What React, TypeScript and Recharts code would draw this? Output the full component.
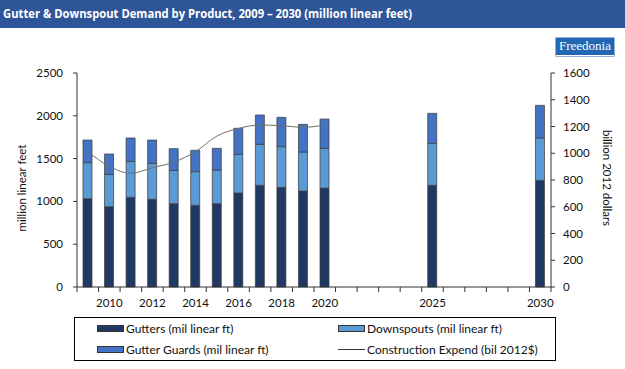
import React from 'react';
import { ComposedChart, Bar, Line, XAxis, YAxis } from 'recharts';

const categories = ['2009','2010','2011','2012','2013','2014','2015','2016','2017','2018','2019','2020','2021','2022','2023','2024','2025','2026','2027','2028','2029','2030'];
const labeledYears = ['2010','2012','2014','2016','2018','2020','2025','2030'];

const barYears = ['2009','2010','2011','2012','2013','2014','2015','2016','2017','2018','2019','2020','2025','2030'];
const gutters = [1032, 938, 1048, 1024, 973, 954, 973, 1098, 1188, 1165, 1121, 1156, 1188, 1246];
const downspouts = [420, 378, 420, 421, 390, 393, 394, 452, 479, 474, 456, 464, 490, 495];
const guards = [265, 238, 273, 272, 253, 250, 253, 304, 342, 343, 323, 342, 351, 381];

const lineYears = ['2009','2010','2011','2012','2013','2014','2015','2016','2017','2018','2019','2020'];
const construction = [1012, 902, 850, 892, 934, 1012, 1129, 1186, 1211, 1206, 1194, 1211];

const leftTicks = [0, 500, 1000, 1500, 2000, 2500];
const rightTicks = [0, 200, 400, 600, 800, 1000, 1200, 1400, 1600];

const data = categories.map((c) => {
  const bi = barYears.indexOf(c);
  const li = lineYears.indexOf(c);
  return {
    year: c,
    gutters: bi >= 0 ? gutters[bi] : null,
    downspouts: bi >= 0 ? downspouts[bi] : null,
    guards: bi >= 0 ? guards[bi] : null,
    construction: li >= 0 ? construction[li] : null,
  };
});

const FONT = 'Lato, "Open Sans", sans-serif';
const PLOT_W = 474;
const BAND = PLOT_W / categories.length;

const XTick = (props: any) => {
  const { x, y, payload, index } = props;
  const half = BAND / 2;
  const show = labeledYears.includes(payload.value);
  return (
    <g>
      <line x1={x - half} x2={x - half} y1={y - 5} y2={y} stroke="#333" strokeWidth={1} />
      {index === categories.length - 1 && (
        <line x1={x + half} x2={x + half} y1={y - 5} y2={y} stroke="#333" strokeWidth={1} />
      )}
      {show && (
        <text x={x} y={y + 15} textAnchor="middle" fontSize={11.5} fontFamily={FONT} fill="#111">
          {payload.value}
        </text>
      )}
    </g>
  );
};

const Swatch = ({ color }: { color: string }) => (
  <span style={{ display: 'inline-block', width: 27, height: 7, background: color, border: '0.5px solid #333', boxSizing: 'border-box', marginRight: 2 }} />
);

export default function App() {
  return (
    <div style={{ position: 'absolute', left: 0, top: 0, width: 625, height: 369, background: '#fff', fontFamily: FONT, overflow: 'hidden' }}>
      <svg width={625} height={28} style={{ position: 'absolute', left: 0, top: 0 }}>
        <rect x={0} y={0} width={625} height={28} fill="#2E5597" />
        <text x={3} y={18} fill="#fff" fontSize={12} fontWeight="bold" fontFamily='"Open Sans", sans-serif' textLength={409} lengthAdjust="spacingAndGlyphs">
          Gutter &amp; Downspout Demand by Product, 2009 – 2030 (million linear feet)
        </text>
      </svg>
      <div style={{ position: 'absolute', left: 556, top: 38, width: 58, height: 18, background: '#2366B1', color: '#fff', fontFamily: '"Liberation Serif", serif', fontSize: 13, lineHeight: '16px', textAlign: 'center', borderBottom: '1px solid #fff', boxShadow: '0 0 0 0.5px #2366B1', boxSizing: 'border-box' }}>
        Freedonia
      </div>
      <div style={{ position: 'absolute', left: 0, top: 0 }}>
        <ComposedChart width={625} height={369} data={data} margin={{ top: 73, right: 0, bottom: 52, left: 0 }} barCategoryGap={0}>
          <XAxis dataKey="year" interval={0} height={30} tickLine={false} tickSize={5} tickMargin={0} tick={<XTick />} axisLine={{ stroke: '#333' }} />
          <YAxis yAxisId="left" width={77} domain={[0, 2500]} ticks={leftTicks} interval={0} tickSize={4} tickMargin={10}
            axisLine={{ stroke: '#333' }} tickLine={{ stroke: '#333' }}
            tick={{ fontSize: 11.5, fontFamily: FONT, fill: '#111' }}
            label={{ value: 'million linear feet', angle: -90, position: 'insideLeft', offset: 22, dy: 8, style: { textAnchor: 'middle', fontSize: 11.5, fontFamily: FONT, fill: '#111' } }} />
          <YAxis yAxisId="right" orientation="right" width={74} domain={[0, 1600]} ticks={rightTicks} interval={0} tickSize={4} tickMargin={8}
            axisLine={{ stroke: '#333' }} tickLine={{ stroke: '#333' }}
            tick={{ fontSize: 11.5, fontFamily: FONT, fill: '#111' }}
            label={{ value: 'billion 2012 dollars', angle: 90, position: 'insideRight', offset: 18, dy: -2, style: { textAnchor: 'middle', fontSize: 11.5, fontFamily: FONT, fill: '#111' } }} />
          <Bar yAxisId="left" dataKey="gutters" stackId="a" barSize={9} fill="#1F3864" stroke="#404040" strokeWidth={0.75} isAnimationActive={false} />
          <Bar yAxisId="left" dataKey="downspouts" stackId="a" barSize={9} fill="#5B9BD5" stroke="#404040" strokeWidth={0.75} isAnimationActive={false} />
          <Bar yAxisId="left" dataKey="guards" stackId="a" barSize={9} fill="#4472C4" stroke="#404040" strokeWidth={0.75} isAnimationActive={false} />
          <Line yAxisId="right" dataKey="construction" type="monotone" stroke="#6f6f6f" strokeWidth={1} dot={false} activeDot={false} connectNulls={false} isAnimationActive={false} />
        </ComposedChart>
      </div>
      <div style={{ position: 'absolute', left: 74, top: 317, width: 482, height: 44, border: '1px solid #000', boxSizing: 'border-box', fontSize: 12, color: '#111' }}>
        <div style={{ position: 'absolute', left: 22, top: 3, display: 'flex', alignItems: 'center', whiteSpace: 'nowrap' }}>
          <Swatch color="#1F3864" />Gutters (mil linear ft)
        </div>
        <div style={{ position: 'absolute', left: 263, top: 3, display: 'flex', alignItems: 'center', whiteSpace: 'nowrap' }}>
          <Swatch color="#5B9BD5" />Downspouts (mil linear ft)
        </div>
        <div style={{ position: 'absolute', left: 22, top: 24, display: 'flex', alignItems: 'center', whiteSpace: 'nowrap' }}>
          <Swatch color="#4472C4" />Gutter Guards (mil linear ft)
        </div>
        <div style={{ position: 'absolute', left: 263, top: 24, display: 'flex', alignItems: 'center', whiteSpace: 'nowrap' }}>
          <span style={{ display: 'inline-block', width: 27, height: 1, background: '#333', marginRight: 2 }} />Construction Expend (bil 2012$)
        </div>
      </div>
    </div>
  );
}
